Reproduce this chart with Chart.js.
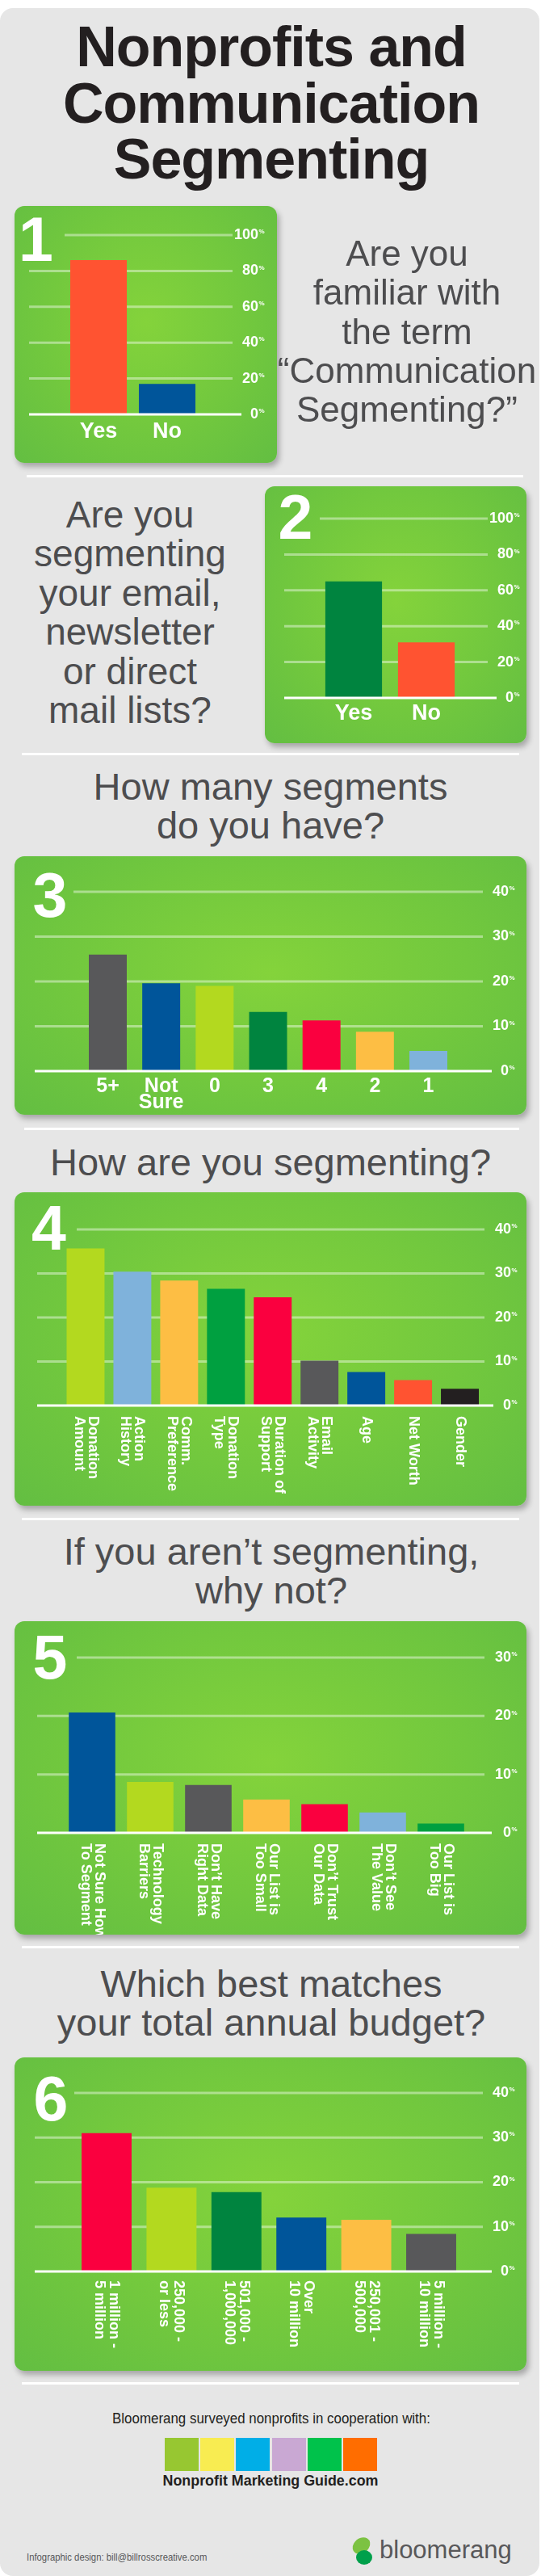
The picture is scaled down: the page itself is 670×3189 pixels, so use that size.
<!DOCTYPE html>
<html>
<head>
<meta charset="utf-8">
<script src="https://cdn.jsdelivr.net/npm/chart.js@4.4.0/dist/chart.umd.min.js"></script>
<style>
body { margin: 0; background: #fff; }
#page { position: relative; width: 670px; height: 3189px; overflow: hidden; font-family: "Liberation Sans", Arial, sans-serif; }
.bg { position: absolute; left: 0; top: 10px; width: 668px; height: 3179px; background: #e6e6e6; border-radius: 16px; }
.card { position: absolute; border-radius: 12px; background: radial-gradient(ellipse at 50% 45%, #84d33b 0%, #72c83e 55%, #63be42 100%); box-shadow: 3px 5px 7px rgba(0,0,0,0.28); }
.card canvas { position: absolute; left: 0; top: 0; }
.q { position: absolute; color: #4d4d4f; text-align: center; white-space: nowrap; }
.sep { position: absolute; height: 3px; background: #fff; }
.sq { position: absolute; top: 3018px; width: 42px; height: 41px; }
</style>
</head>
<body>
<div id="page">
  <div class="bg"></div>

  <div class="q" style="left:36px;top:24px;width:600px;font-size:70px;line-height:69.5px;font-weight:bold;color:#231f20;letter-spacing:-1px;">Nonprofits and<br>Communication<br>Segmenting</div>

  <div class="card" id="c1" style="left:18px;top:255px;width:325px;height:318px;"><canvas id="ch1"></canvas></div>
  <div class="q" style="left:304px;top:290px;width:400px;font-size:44px;line-height:48.25px;">Are you<br>familiar with<br>the term<br>“Communication<br>Segmenting?”</div>

  <div class="sep" style="left:33px;top:588px;width:615px;"></div>

  <div class="q" style="left:-39px;top:613px;width:400px;font-size:46px;line-height:48.4px;">Are you<br>segmenting<br>your email,<br>newsletter<br>or direct<br>mail lists?</div>
  <div class="card" id="c2" style="left:328px;top:602px;width:324px;height:318px;"><canvas id="ch2"></canvas></div>

  <div class="sep" style="left:27px;top:932px;width:616px;"></div>

  <div class="q" style="left:35px;top:950px;width:600px;font-size:47px;line-height:48px;">How many segments<br>do you have?</div>
  <div class="card" id="c3" style="left:18px;top:1060px;width:634px;height:320px;"><canvas id="ch3"></canvas></div>

  <div class="sep" style="left:30px;top:1396px;width:613px;"></div>

  <div class="q" style="left:35px;top:1415px;width:600px;font-size:47px;line-height:48px;">How are you segmenting?</div>
  <div class="card" id="c4" style="left:18px;top:1476px;width:634px;height:388px;"><canvas id="ch4"></canvas></div>

  <div class="sep" style="left:27px;top:1879px;width:616px;"></div>

  <div class="q" style="left:36px;top:1897px;width:600px;font-size:47px;line-height:48px;">If you aren’t segmenting,<br>why not?</div>
  <div class="card" id="c5" style="left:18px;top:2007px;width:634px;height:388px;"><canvas id="ch5"></canvas></div>

  <div class="sep" style="left:27px;top:2409px;width:616px;"></div>

  <div class="q" style="left:36px;top:2432px;width:600px;font-size:47px;line-height:48px;">Which best matches<br>your total annual budget?</div>
  <div class="card" id="c6" style="left:18px;top:2547px;width:634px;height:388px;"><canvas id="ch6"></canvas></div>

  <div class="sep" style="left:27px;top:2949px;width:616px;"></div>

  <div class="q" style="left:36px;top:2984px;width:600px;font-size:19px;line-height:19px;color:#231f20;transform:scaleX(0.89);">Bloomerang surveyed nonprofits in cooperation with:</div>
  <div class="sq" style="left:204px;background:#97c731;"></div>
  <div class="sq" style="left:248px;background:#f8ec51;"></div>
  <div class="sq" style="left:292px;background:#00aee7;"></div>
  <div class="sq" style="left:337px;background:#c9a8d3;"></div>
  <div class="sq" style="left:381px;background:#00c24b;"></div>
  <div class="sq" style="left:425px;background:#ff6d00;"></div>
  <div class="q" style="left:135px;top:3061px;width:400px;font-size:19px;line-height:19px;font-weight:bold;color:#231f20;transform:scaleX(0.94);">Nonprofit Marketing Guide.com</div>

  <div class="q" style="left:33px;top:3159px;text-align:left;font-size:13px;line-height:13px;color:#58585a;transform:scaleX(0.87);transform-origin:0 0;">Infographic design: bill@billrosscreative.com</div>
  <div style="position:absolute;left:438px;top:3140px;width:19px;height:23px;background:#7cc242;border-radius:60% 40% 60% 40%;transform:rotate(30deg);"></div>
  <div style="position:absolute;left:441px;top:3157px;width:20px;height:18px;background:#00a04b;border-radius:50%;"></div>
  <div class="q" style="left:470px;top:3141px;text-align:left;font-size:31px;line-height:31px;color:#58585a;">bloomerang</div>
</div>

<script>
// colours used by the bars
var orange = '#ff5331', blue = '#00559a', darkGreen = '#00843f', green = '#00a040',
    lime = '#b3d91f', gray = '#58585a', red = '#fa003f', yellow = '#fdbe44',
    lightBlue = '#7fb2db', black = '#231f20';

// 1. familiar with the term
var q1Labels = ['Yes', 'No'];
var q1Values = [86, 17];
var q1Colors = [orange, blue];

// 2. segmenting lists
var q2Labels = ['Yes', 'No'];
var q2Values = [65, 31];
var q2Colors = [darkGreen, orange];

// 3. how many segments
var q3Labels = ['5+', ['Not', 'Sure'], '0', '3', '4', '2', '1'];
var q3Values = [26, 19.6, 19, 13.2, 11.3, 8.8, 4.5];
var q3Colors = [gray, blue, lime, darkGreen, red, yellow, lightBlue];

// 4. how are you segmenting
var q4Labels = [['Donation', 'Amount'], ['Action', 'History'], ['Comm.', 'Preference'], ['Donation', 'Type'],
    ['Duration of', 'Support'], ['Email', 'Activity'], ['Age'], ['Net Worth'], ['Gender']];
var q4Values = [35.7, 30.4, 28.4, 26.5, 24.6, 10.2, 7.6, 5.8, 3.8];
var q4Colors = [lime, lightBlue, yellow, green, red, gray, blue, orange, black];

// 5. why not
var q5Labels = [['Not Sure How', 'To Segment'], ['Technology', 'Barriers'], ['Don’t Have', 'Right Data'],
    ['Our List is', 'Too Small'], ['Don’t Trust', 'Our Data'], ['Don’t See', 'The Value'], ['Our List is', 'Too Big']];
var q5Values = [20.6, 8.7, 8.2, 5.7, 4.9, 3.5, 1.6];
var q5Colors = [blue, lime, gray, yellow, red, lightBlue, green];

// 6. annual budget
var q6Labels = [['1 million -', '5 million'], ['250,000 -', 'or less'], ['501,000 -', '1,000,000'],
    ['Over', '10 million'], ['250,001 -', '500,000'], ['5 million -', '10 million']];
var q6Values = [31, 18.8, 17.8, 12.1, 11.6, 8.4];
var q6Colors = [red, lime, darkGreen, blue, yellow, gray];

var ticks100 = [0, 20, 40, 60, 80, 100];
var ticks40 = [0, 10, 20, 30, 40];
var ticks30 = [0, 10, 20, 30];

// page positions of each panel (card box, plot band, grid extent)
var layouts = [
  { card: [18, 255, 325, 318], plotL: 79.5, plotR: 249.5, yTop: 291, y0: 513, gridL: 36, gridR: 288, topL: 80, axisR: 299, numR: 320,
    barPct: 0.824, num: '1', numX: 44.5, numBase: 323, labelY: 535, labelFont: 'bold 27px "Liberation Sans"', labelLH: 20 },
  { card: [328, 602, 324, 318], plotL: 393, plotR: 573, yTop: 642, y0: 864, gridL: 352, gridR: 604, topL: 396, axisR: 615, numR: 636,
    barPct: 0.78, num: '2', numX: 366, numBase: 667, labelY: 884, labelFont: 'bold 27px "Liberation Sans"', labelLH: 20 },
  { card: [18, 1060, 634, 320], plotL: 100.4, plotR: 563.6, yTop: 1104, y0: 1326, gridL: 43, gridR: 598, topL: 91, axisR: 609, numR: 630,
    barPct: 0.71, num: '3', numX: 62, numBase: 1135, labelY: 1345, labelFont: 'bold 25px "Liberation Sans"', labelLH: 20 },
  { card: [18, 1476, 634, 388], plotL: 77, plotR: 598.5, yTop: 1522, y0: 1740, gridL: 46, gridR: 600, topL: 95, axisR: 611, numR: 633,
    barPct: 0.81, num: '4', numX: 60.5, numBase: 1547, labelY: 1753, rotate: true, labelFont: 'bold 18px "Liberation Sans"', labelLH: 17 },
  { card: [18, 2007, 634, 388], plotL: 78, plotR: 582, yTop: 2052, y0: 2269, gridL: 46, gridR: 600, topL: 95, axisR: 609, numR: 633,
    barPct: 0.8, num: '5', numX: 62, numBase: 2078, labelY: 2282, rotate: true, labelFont: 'bold 18px "Liberation Sans"', labelLH: 17 },
  { card: [18, 2547, 634, 388], plotL: 91.8, plotR: 574.2, yTop: 2591, y0: 2812, gridL: 43, gridR: 598, topL: 92, axisR: 609, numR: 630,
    barPct: 0.77, num: '6', numX: 63, numBase: 2625, labelY: 2823, rotate: true, labelFont: 'bold 18px "Liberation Sans"', labelLH: 18 }
];

function makeDeco(L, ticks) {
  var ox = L.card[0], oy = L.card[1];
  return {
    id: 'deco',
    beforeDatasetsDraw: function (chart) {
      var ctx = chart.ctx, y = chart.scales.y;
      ctx.save();
      ctx.strokeStyle = 'rgba(255,255,255,0.42)';
      ctx.lineWidth = 3;
      ticks.forEach(function (v, i) {
        if (v === 0) return;
        var py = y.getPixelForValue(v);
        var x1 = (i === ticks.length - 1 ? L.topL : L.gridL) - ox;
        ctx.beginPath();
        ctx.moveTo(x1, py);
        ctx.lineTo(L.gridR - ox, py);
        ctx.stroke();
      });
      ctx.restore();
    },
    afterDatasetsDraw: function (chart) {
      var ctx = chart.ctx, y = chart.scales.y, x = chart.scales.x;
      ctx.save();
      // zero line
      var p0 = y.getPixelForValue(0);
      ctx.strokeStyle = '#fff';
      ctx.lineWidth = 3;
      ctx.beginPath();
      ctx.moveTo(L.gridL - ox, p0);
      ctx.lineTo(L.axisR - ox, p0);
      ctx.stroke();

      // tick labels with small raised %
      ctx.fillStyle = '#fff';
      ticks.forEach(function (v) {
        var py = y.getPixelForValue(v);
        ctx.font = 'bold 18px "Liberation Sans"';
        ctx.textAlign = 'right';
        ctx.textBaseline = 'middle';
        ctx.fillText(String(v), L.numR - ox, py);
        ctx.font = 'bold 8px "Liberation Sans"';
        ctx.textAlign = 'left';
        ctx.fillText('%', L.numR - ox + 0.5, py - 4);
      });

      // category labels
      ctx.font = L.labelFont;
      chart.data.labels.forEach(function (lab, i) {
        var lines = Array.isArray(lab) ? lab : [lab];
        var px = x.getPixelForValue(i);
        if (!L.rotate) {
          ctx.textAlign = 'center';
          ctx.textBaseline = 'middle';
          lines.forEach(function (t, k) {
            ctx.fillText(t, px, L.labelY - oy + k * L.labelLH);
          });
        } else {
          ctx.save();
          ctx.translate(px, L.labelY - oy);
          ctx.rotate(Math.PI / 2);
          ctx.textAlign = 'left';
          ctx.textBaseline = 'middle';
          lines.forEach(function (t, k) {
            ctx.fillText(t, 0, (k - (lines.length - 1) / 2) * L.labelLH);
          });
          ctx.restore();
        }
      });

      // big panel number
      ctx.font = 'bold 77px "Liberation Sans"';
      ctx.textAlign = 'center';
      ctx.textBaseline = 'alphabetic';
      ctx.fillText(L.num, L.numX - ox, L.numBase - oy);
      ctx.restore();
    }
  };
}

function makePanel(canvasId, labels, values, colors, ticks, L) {
  var canvas = document.getElementById(canvasId);
  canvas.width = L.card[2];
  canvas.height = L.card[3];
  return new Chart(canvas.getContext('2d'), {
    type: 'bar',
    data: {
      labels: labels,
      datasets: [{
        data: values,
        backgroundColor: colors,
        borderWidth: 0,
        barPercentage: L.barPct,
        categoryPercentage: 1
      }]
    },
    options: {
      responsive: false,
      animation: false,
      events: [],
      layout: {
        padding: {
          left: L.plotL - L.card[0],
          right: L.card[0] + L.card[2] - L.plotR,
          top: L.yTop - L.card[1],
          bottom: L.card[1] + L.card[3] - L.y0
        }
      },
      plugins: { legend: { display: false }, tooltip: { enabled: false } },
      scales: {
        x: { display: false },
        y: { display: false, min: 0, max: ticks[ticks.length - 1] }
      }
    },
    plugins: [makeDeco(L, ticks)]
  });
}

makePanel('ch1', q1Labels, q1Values, q1Colors, ticks100, layouts[0]);
makePanel('ch2', q2Labels, q2Values, q2Colors, ticks100, layouts[1]);
makePanel('ch3', q3Labels, q3Values, q3Colors, ticks40, layouts[2]);
makePanel('ch4', q4Labels, q4Values, q4Colors, ticks40, layouts[3]);
makePanel('ch5', q5Labels, q5Values, q5Colors, ticks30, layouts[4]);
makePanel('ch6', q6Labels, q6Values, q6Colors, ticks40, layouts[5]);
</script>
</body>
</html>
